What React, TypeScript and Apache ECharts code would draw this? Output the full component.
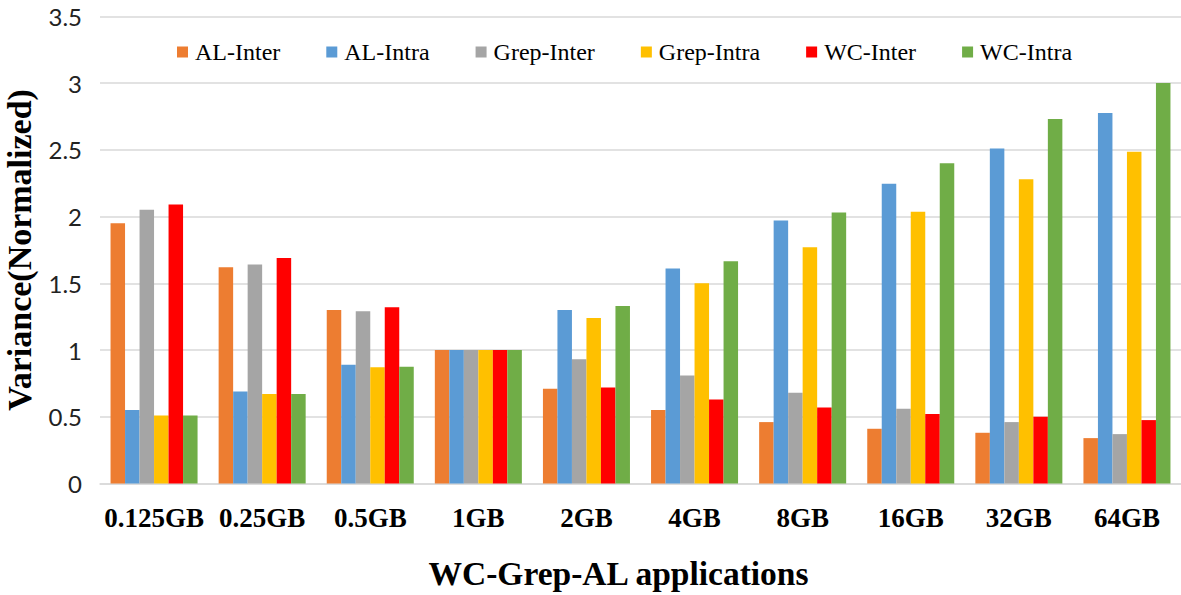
import React, { useEffect, useRef } from "react";
import * as echarts from "echarts";

const categories = ["0.125GB", "0.25GB", "0.5GB", "1GB", "2GB", "4GB", "8GB", "16GB", "32GB", "64GB"];
const alInter = [1.95, 1.62, 1.30, 1.0, 0.71, 0.55, 0.46, 0.41, 0.38, 0.34];
const alIntra = [0.55, 0.69, 0.89, 1.0, 1.30, 1.61, 1.97, 2.245, 2.51, 2.775];
const grepInter = [2.05, 1.64, 1.29, 1.0, 0.93, 0.81, 0.68, 0.56, 0.46, 0.37];
const grepIntra = [0.51, 0.67, 0.87, 1.0, 1.24, 1.50, 1.77, 2.035, 2.28, 2.485];
const wcInter = [2.09, 1.69, 1.32, 1.0, 0.72, 0.63, 0.57, 0.52, 0.50, 0.475];
const wcIntra = [0.51, 0.67, 0.875, 1.0, 1.33, 1.665, 2.03, 2.40, 2.73, 3.0];
const yTicks = [0, 0.5, 1, 1.5, 2, 2.5, 3, 3.5];

const seriesDefs = [
  { name: "AL-Inter", data: alInter, color: "#ED7D31" },
  { name: "AL-Intra", data: alIntra, color: "#5B9BD5" },
  { name: "Grep-Inter", data: grepInter, color: "#A5A5A5" },
  { name: "Grep-Intra", data: grepIntra, color: "#FFC000" },
  { name: "WC-Inter", data: wcInter, color: "#FF0000" },
  { name: "WC-Intra", data: wcIntra, color: "#70AD47" },
];

export default function App() {
  const ref = useRef<HTMLDivElement>(null);
  useEffect(() => {
    if (!ref.current) return;
    const chart = echarts.init(ref.current, null, { renderer: "svg" });
    chart.setOption({
      animation: false,
      backgroundColor: "#ffffff",
      grid: {
        left: 100,
        right: 0,
        top: 16.3,
        bottom: 111.5,
        containLabel: false,
        outerBoundsMode: "none",
      },
      legend: {
        left: 172,
        top: 35,
        itemWidth: 11,
        itemHeight: 11,
        itemGap: 46,
        icon: "rect",
        textStyle: {
          fontFamily: "Liberation Serif",
          fontSize: 24,
          lineHeight: 24,
          color: "#000",
          padding: [0, 0, 0, 2],
        },
        data: seriesDefs.map((s) => s.name),
      },
      xAxis: {
        type: "category",
        data: categories,
        axisTick: { show: false },
        axisLine: { lineStyle: { color: "#d9d9d9", width: 1.5 } },
        axisLabel: {
          margin: 21,
          fontFamily: "Liberation Serif",
          fontWeight: "bold",
          fontSize: 27,
          color: "#000",
          interval: 0,
        },
        name: "WC-Grep-AL applications",
        nameLocation: "middle",
        nameGap: 73,
        nameTextStyle: {
          fontFamily: "Liberation Serif",
          fontWeight: "bold",
          fontSize: 33.5,
          color: "#000",
          padding: [0, 44, 0, 0],
        },
      },
      yAxis: {
        type: "value",
        min: yTicks[0],
        max: yTicks[yTicks.length - 1],
        interval: 0.5,
        axisLine: { show: false },
        axisTick: { show: false },
        splitLine: { lineStyle: { color: "#d9d9d9", width: 1.5 } },
        axisLabel: {
          margin: 18,
          fontFamily: "Lato",
          fontSize: 24,
          color: "#222",
        },
        name: "Variance(Normalized)",
        nameLocation: "middle",
        nameGap: 64,
        nameTextStyle: {
          fontFamily: "Liberation Serif",
          fontWeight: "bold",
          fontSize: 34,
          color: "#000",
        },
      },
      series: seriesDefs.map((s) => ({
        name: s.name,
        type: "bar",
        data: s.data,
        barGap: "0%",
        barCategoryGap: "19.5%",
        itemStyle: { color: s.color },
      })),
    });
    return () => chart.dispose();
  }, []);
  return (
    <div
      ref={ref}
      style={{ position: "absolute", left: 0, top: 0, width: 1181, height: 595 }}
    />
  );
}
